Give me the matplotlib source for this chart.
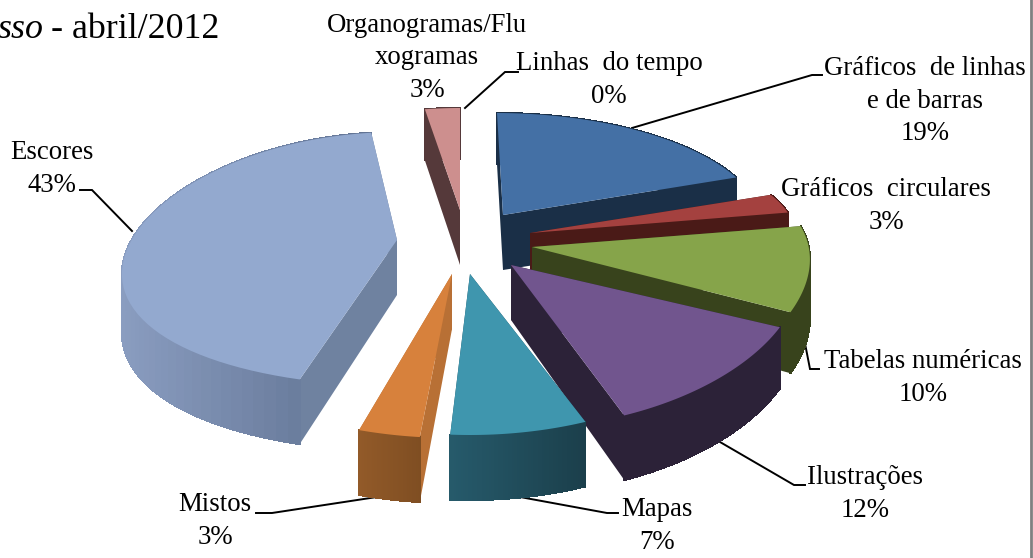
import matplotlib
matplotlib.use('Agg')
import matplotlib.pyplot as plt
from matplotlib.collections import PolyCollection
from matplotlib.colors import to_rgb
import numpy as np

categories = ['Linhas do tempo', 'Gráficos de linhas e de barras', 'Gráficos circulares',
              'Tabelas numéricas', 'Ilustrações', 'Mapas', 'Mistos', 'Escores',
              'Organogramas/Fluxogramas']
values = [0, 19, 3, 10, 12, 7, 3, 43, 3]

# layout of the exploded slices, pixels: apex of top face, perspective tweaks
apex = [(460, 210), (503, 215), (530, 233), (532, 247), (511, 265),
        (470, 274), (452, 274), (397, 240), (460, 210)]
xscale = [1, 0.92, 0.95, 0.99, 1.03, 1.05, 1.1, 0.98, 0.72]
ry_a = [133, 102, 115, 133, 133, 133, 133, 127, 133]
ry_b = [31, 0, 31, 31, 31, 28, 31, -6, 31]
y_shift = [0, 0, 0, 3, 0, 0, 0, 25, 0]
rot = [0, 0, 0, 0, 0, 0, 2, 5, 0]
lean = [0, 6, 0, 0, 0, 0, 0, 0, 0]
top_col = ['#cd8f8e', '#4470a5', '#a4413f', '#86a44a', '#71558e',
           '#3f96ae', '#d7813c', '#93a9cf', '#cd8f8e']
wall_col = ['#55393a', '#1a2f47', '#4a1a17', '#38431c', '#2c2238',
            '#20505f', '#b87035', '#6f82a0', '#55393a']
rim_a = ['#55393a', '#1a2f47', '#4a1a17', '#38431c', '#2c2238',
         '#265a6b', '#925a29', '#8a9dc0', '#55393a']
rim_b = ['#55393a', '#1a2f47', '#4a1a17', '#38431c', '#2c2238',
         '#1b3f4b', '#7f4e22', '#5f7191', '#55393a']
# slices drawn from back to front
draw_order = [8, 1, 2, 3, 4, 5, 6, 7]

labels = ['Organogramas/Flu\nxogramas\n3%', 'Linhas  do tempo\n0%', 'Gráficos  de linhas\ne de barras\n19%',
          'Gráficos  circulares\n3%', 'Tabelas numéricas\n10%', 'Ilustrações\n12%',
          'Mapas\n7%', 'Mistos\n3%', 'Escores\n43%']
label_pos = [(427, 58), (609, 80), (925, 101), (886, 206), (923, 378),
             (865, 494), (657, 526), (215, 521), (52, 169)]
leaders = [[(518, 72), (505, 72), (465, 108)],
           [(822, 75), (812, 75), (632, 128)],
           [(819, 369), (810, 369), (801, 323)],
           [(805, 485), (794, 485), (720, 442)],
           [(618, 513), (607, 513), (520, 497)],
           [(256, 513), (272, 513), (390, 495)],
           [(80, 190), (92, 190), (132, 231)]]


def rim(i, t0, t1):
    th = np.radians(np.linspace(t0, t1, 60))
    c, s = np.cos(th), np.sin(th)
    x = apex[i][0] + s * (280 - 20 * c) * xscale[i] - lean[i] * np.clip(c, 0, 1) ** 8
    y = apex[i][1] + y_shift[i] - c * (ry_a[i] - ry_b[i] * c)
    return x, y, c


fig = plt.figure(figsize=(10.33, 5.58), dpi=100)
ax = fig.add_axes([0, 0, 1, 1])
ax.set_xlim(0, 1033)
ax.set_ylim(558, 0)
ax.axis('off')
plt.rcParams['font.family'] = ['Liberation Serif', 'DejaVu Sans']

ends = np.cumsum(values) / np.sum(values) * 360
starts = np.concatenate([[0], ends[:-1]])

for pts in leaders:
    ax.plot([p[0] for p in pts], [p[1] for p in pts], color='black', lw=1.4,
            solid_joinstyle='miter', zorder=0.5)

for i in draw_order:
    ax0, ay0 = apex[i]
    x, y, c = rim(i, starts[i] + rot[i], ends[i] + rot[i])
    d0 = 55
    d = 58 - 7 * c
    # flat cut walls
    for px, py, pd in [(x[0], y[0], d[0]), (x[-1], y[-1], d[-1])]:
        ax.fill([ax0, px, px, ax0], [ay0, py, py + pd, ay0 + d0], color=wall_col[i], lw=0)
    # outer wall with a gradient
    quads = []
    cols = []
    a, b = np.array(to_rgb(rim_a[i])), np.array(to_rgb(rim_b[i]))
    for j in range(len(x) - 1):
        quads.append([(x[j], y[j]), (x[j + 1], y[j + 1]),
                      (x[j + 1], y[j + 1] + d[j + 1]), (x[j], y[j] + d[j])])
        # gradient runs left to right on the screen
        f = (x[j] - x.min()) / (x.max() - x.min())
        cols.append(a + (b - a) * f)
    ax.add_collection(PolyCollection(quads, facecolors=cols, edgecolors=cols,
                                     linewidths=0.8, antialiaseds=False))
    ax.fill(np.r_[ax0, x], np.r_[ay0, y], color=top_col[i], lw=0)

for txt, (lx, ly) in zip(labels, label_pos):
    ax.text(lx, ly, txt, ha='center', va='center', fontsize=19.3, family='Liberation Serif',
            linespacing=1.37, color='black')

ax.text(219, 29, '- abril/2012', ha='right', va='center', fontsize=25.8, family='Liberation Serif')
ax.text(44, 29, 'sso', ha='right', va='center', fontsize=25.8, family='Liberation Serif', style='italic')
ax.plot([1031, 1031], [0, 558], color='#808080', lw=2)

fig.savefig('out.png', dpi=100)
